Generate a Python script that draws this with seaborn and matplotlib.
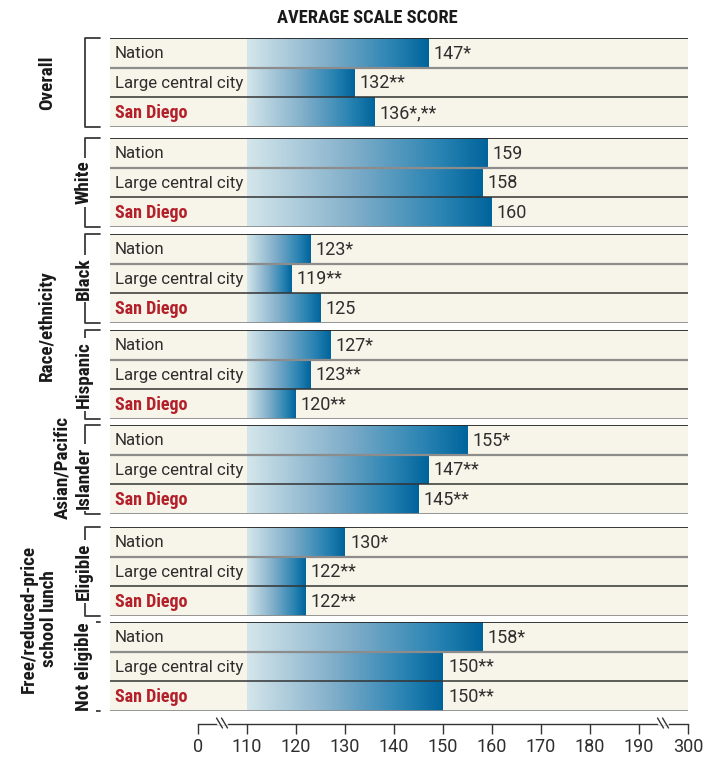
import numpy as np
import pandas as pd
import matplotlib
matplotlib.use("Agg")
import matplotlib.pyplot as plt
import seaborn as sns
from matplotlib.colors import LinearSegmentedColormap
from matplotlib.lines import Line2D

# ---------------- data ----------------
places = ["Nation", "Large central city", "San Diego"]
group_names = ["Overall", "White", "Black", "Hispanic",
               "Asian/Pacific\nIslander", "Eligible", "Not eligible"]
overall = [147, 132, 136]
white = [159, 158, 160]
black = [123, 119, 125]
hispanic = [127, 123, 120]
asian = [155, 147, 145]
eligible = [130, 122, 122]
not_eligible = [158, 150, 150]
overall_notes = ["*", "**", "*,**"]
white_notes = ["", "", ""]
black_notes = ["*", "**", ""]
hispanic_notes = ["*", "**", "**"]
asian_notes = ["*", "**", "**"]
eligible_notes = ["*", "**", "**"]
not_eligible_notes = ["*", "**", "**"]
tick_values = [0, 110, 120, 130, 140, 150, 160, 170, 180, 190, 300]

group_values = [overall, white, black, hispanic, asian, eligible, not_eligible]
group_notes = [overall_notes, white_notes, black_notes, hispanic_notes,
               asian_notes, eligible_notes, not_eligible_notes]

# broken axis: 0 | 110..190 | 300
def fwd(v):
    return np.interp(v, [0, 110, 190, 300], [-1, 0, 8, 9])

# ---------------- style ----------------
sns.set_theme(style="white")
REG = ["Roboto", "DejaVu Sans"]
BOLD = ["Roboto Condensed", "DejaVu Sans"]
plt.rcParams["font.family"] = REG

W, H = 721, 757
fig = plt.figure(figsize=(W / 100, H / 100), dpi=100)

BEIGE = "#f7f4e9"
RED = "#b3202a"
TXT = "#2e2e2e"
cmap = LinearSegmentedColormap.from_list(
    "bar", [(0, "#d4e6eb"), (0.45, "#7fadc9"), (0.8, "#2a84b3"), (1, "#00649c")])

px_per_unit = 49.0
x0_px = 247.0
panel_left, panel_right = 110, 688
xmin = (panel_left - x0_px) / px_per_unit
xmax = (panel_right - x0_px) / px_per_unit

group_tops = [38, 138, 234, 330, 425, 527, 622]
group_h = 89


def fig_rect(left_px, top_px, w_px, h_px):
    return [left_px / W, 1 - (top_px + h_px) / H, w_px / W, h_px / H]


grad = np.linspace(0, 1, 256).reshape(1, -1)

for gi, (vals, notes) in enumerate(zip(group_values, group_notes)):
    ax = fig.add_axes(fig_rect(panel_left, group_tops[gi], panel_right - panel_left, group_h))
    df = pd.DataFrame({"place": places, "value": vals, "pos": fwd(np.array(vals))})
    sns.barplot(data=df, x="pos", y="place", orient="h", width=1.0,
                color="#3d8ab8", ax=ax, saturation=1)
    ax.set_facecolor(BEIGE)
    for sp in ax.spines.values():
        sp.set_visible(False)
    ax.set_xlim(xmin, xmax)
    ax.set_ylim(2.5, -0.5)
    ax.set_xticks([])
    ax.set_yticks([])
    ax.set_xlabel("")
    ax.set_ylabel("")
    for p in ax.patches:
        p.set_edgecolor("none")
        bx, by, bw, bh = p.get_x(), p.get_y(), p.get_width(), p.get_height()
        im = ax.imshow(grad, cmap=cmap, aspect="auto",
                       extent=[bx, bx + bw, by + bh, by], zorder=2,
                       interpolation="bicubic")
        im.set_clip_path(p)
    ax.set_xlim(xmin, xmax)
    ax.set_ylim(2.5, -0.5)
    # row lines
    ax.axhline(-0.5, color="#262626", lw=1.3, zorder=5)
    ax.axhline(0.5, color="#8c8c8c", lw=1.6, zorder=5)
    ax.axhline(1.5, color="#333333", lw=1.1, zorder=5)
    ax.axhline(2.5, color="#8c8c8c", lw=2.0, zorder=5)
    for i, (place, v, n) in enumerate(zip(places, vals, notes)):
        is_sd = place == "San Diego"
        ax.text(xmin + 5 / px_per_unit, i + 0.02, place, va="center", ha="left",
                fontsize=12.2 if not is_sd else 13,
                color=RED if is_sd else TXT,
                fontweight="bold" if is_sd else "normal",
                family=BOLD if is_sd else REG, zorder=6)
        ax.text(fwd(v) + 5 / px_per_unit, i + 0.03, f"{v}{n}", va="center", ha="left",
                fontsize=13, color=TXT, zorder=6)

# ---------------- bottom axis ----------------
axx = fig.add_axes(fig_rect(panel_left, 723, panel_right - panel_left, 0.5))
axx.set_facecolor("none")
for k in ["top", "left", "right"]:
    axx.spines[k].set_visible(False)
axx.spines["bottom"].set_color("#333333")
axx.spines["bottom"].set_linewidth(1.0)
axx.spines["bottom"].set_bounds(fwd(0), fwd(300))
axx.set_xlim(xmin, xmax)
axx.set_yticks([])
axx.set_xticks(fwd(np.array(tick_values)))
axx.set_xticklabels([str(t) for t in tick_values])
axx.tick_params(axis="x", direction="out", length=7.5, width=1.0, color="#333333",
                labelsize=13, labelcolor=TXT, pad=3, bottom=True)

ann = fig.add_axes([0, 0, 1, 1])
ann.set_xlim(0, W)
ann.set_ylim(H, 0)
ann.axis("off")
ann.patch.set_alpha(0)

for bxp in [x0_px + fwd(0) * px_per_unit + 24, x0_px + fwd(190) * px_per_unit + 24]:
    ann.add_line(Line2D([bxp - 4, bxp + 4], [723, 723], color="white", lw=2.5))
    for dx in [-2.5, 2.5]:
        ann.add_line(Line2D([bxp + dx - 3, bxp + dx + 3], [718, 728], color="#333333", lw=1.0))

# ---------------- title ----------------
ann.text(367, 18, "AVERAGE SCALE SCORE", ha="center", va="center",
         fontsize=13.3, fontweight="bold", family=BOLD, color="#1a1a1a")

# ---------------- brackets & group labels ----------------
BR = "#3a3a3a"
LBL = dict(rotation=90, ha="center", va="center", fontsize=13.8,
           fontweight="bold", family=BOLD, color="#1a1a1a")
for gi, name in enumerate(group_names):
    top = group_tops[gi]
    bot = top + group_h
    ann.add_line(Line2D([100, 85, 85, 100], [top, top, bot, bot], color=BR, lw=1.3))
    cy = (top + bot) / 2
    if gi == 0:
        ann.text(47, cy, name, **LBL)
    elif name.startswith("Asian"):
        ann.text(62, cy - 2, "Asian/Pacific", **LBL)
        ann.text(84, cy + 8, "Islander", bbox=dict(fc="white", ec="none", pad=2), **LBL)
    else:
        ann.text(84, cy, name, bbox=dict(fc="white", ec="none", pad=2), **LBL)

ann.text(47, 326, "Race/ethnicity", **LBL)
ann.text(39, 619, "Free/reduced-price\nschool lunch", linespacing=1.1,
         multialignment="center", **LBL)

fig.savefig("out.png", dpi=100)
